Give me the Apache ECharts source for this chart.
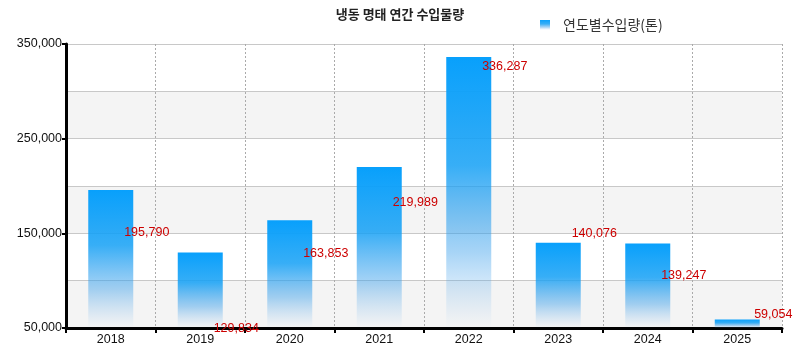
<!DOCTYPE html>
<html><head><meta charset="utf-8">
<script src="https://cdn.jsdelivr.net/npm/echarts@6/dist/echarts.min.js"></script>
<style>html,body{margin:0;padding:0;background:#fff}#c{width:800px;height:350px}</style>
</head><body><div id="c"></div>
<script>
const titleText = '냉동 명태 연간 수입물량';
const seriesName = '연도별수입량(톤)';
const years = ['2018','2019','2020','2021','2022','2023','2024','2025'];
const imports = [195790, 129834, 163853, 219989, 336287, 140076, 139247, 59054];
const labelDy = [43, 76, 33, 35, 10, -9, 32, -5];

const FONT = 'Liberation Sans';
const chart = echarts.init(document.getElementById('c'));
const barGrad = new echarts.graphic.LinearGradient(0,0,0,1,[
  {offset:0, color:'rgba(8,160,252,1)'},
  {offset:0.4, color:'rgba(20,160,245,0.85)'},
  {offset:0.72, color:'rgba(60,160,235,0.45)'},
  {offset:1, color:'rgba(120,180,235,0)'}
]);
chart.setOption({
  animation:false,
  title:{text:titleText,left:'center',top:3,textStyle:{fontSize:13,fontWeight:'bold',color:'#222',fontFamily:'Noto Sans CJK KR'}},
  legend:{left:535,top:13,itemWidth:10,itemHeight:10,icon:'rect',
    textStyle:{fontSize:14,color:'#333',fontFamily:'Noto Sans CJK KR',padding:[0,0,0,8]},
    data:[seriesName]},
  grid:{left:66,right:18,top:44,bottom:22},
  xAxis:{type:'category',data:years,
    axisLine:{lineStyle:{color:'#000',width:3}},
    axisTick:{show:true,length:5,lineStyle:{color:'#000',width:2}},
    axisLabel:{color:'#111',fontSize:12.5,fontFamily:FONT,margin:5},
    splitLine:{show:true,lineStyle:{color:'#aaa',type:[2,2],width:1}}},
  yAxis:[
    {type:'value',min:50000,max:350000,interval:100000,
      axisLine:{show:true,lineStyle:{color:'#000',width:3}},
      axisTick:{show:true,length:4,lineStyle:{color:'#000',width:2}},
      axisLabel:{color:'#111',fontSize:12.5,fontFamily:FONT,margin:4,
        formatter:v=>v.toLocaleString('en-US')},
      splitLine:{show:false},splitArea:{show:false},z:3},
    {type:'value',min:50000,max:350000,interval:50000,position:'left',
      axisLine:{show:false},axisTick:{show:false},axisLabel:{show:false},
      splitLine:{show:true,lineStyle:{color:'#c8c8c8',width:1}},
      splitArea:{show:true,areaStyle:{color:['#f4f4f4','#ffffff']}},z:0}
  ],
  series:[{name:seriesName,type:'bar',barWidth:45,yAxisIndex:0,
    itemStyle:{color:barGrad},
    data:imports.map((v,i)=>({value:v,label:{offset:[36,labelDy[i]]}})),
    label:{show:true,position:['50%',0],align:'center',verticalAlign:'middle',
      color:'#cc0000',fontSize:12.5,fontFamily:FONT,
      formatter:p=>p.value.toLocaleString('en-US')}}]
});
</script></body></html>
